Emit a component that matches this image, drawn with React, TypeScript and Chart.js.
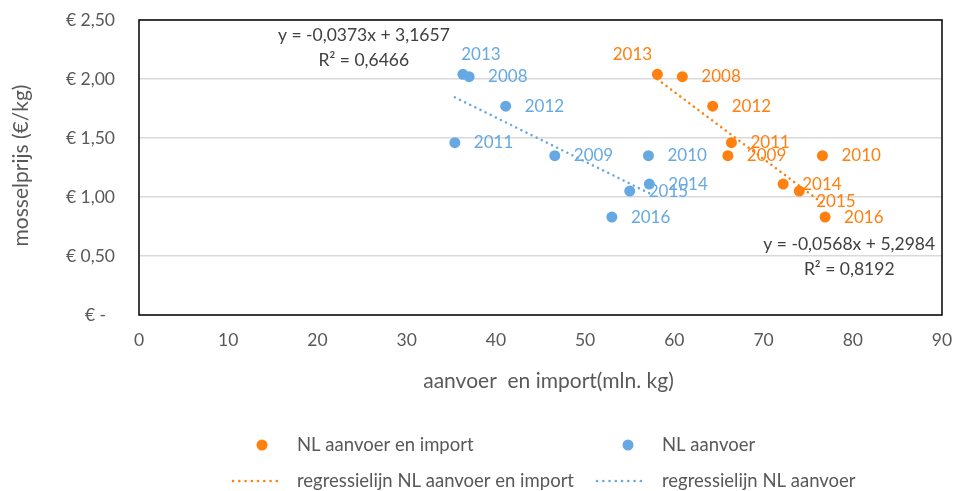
import React, { useEffect, useRef } from 'react';
import { Chart, registerables } from 'chart.js';

Chart.register(...registerables);

// ---------- data ----------
const years = ['2008', '2009', '2010', '2011', '2012', '2013', '2014', '2015', '2016'];
const importVolume = [60.9, 66.0, 76.6, 66.4, 64.3, 58.1, 72.2, 74.0, 76.9]; // NL aanvoer en import
const landingVolume = [37.0, 46.6, 57.1, 35.4, 41.1, 36.3, 57.2, 55.0, 53.0]; // NL aanvoer
const prices = [2.02, 1.35, 1.35, 1.46, 1.77, 2.04, 1.11, 1.05, 0.83];

const seriesNames = ['NL aanvoer en import', 'NL aanvoer'];
const trendNames = ['regressielijn NL aanvoer en import', 'regressielijn NL aanvoer'];
const trendSlopes = [-0.0568, -0.0373];
const trendIntercepts = [5.2984, 3.1657];
const trendEquations = ['y = -0,0568x + 5,2984', 'y = -0,0373x + 3,1657'];
const trendR2 = ['R² = 0,8192', 'R² = 0,6466'];

const xTicks = [0, 10, 20, 30, 40, 50, 60, 70, 80, 90];
const yTicks = [0, 0.5, 1, 1.5, 2, 2.5];
const xTitle = 'aanvoer  en import(mln. kg)';
const yTitle = 'mosselprijs (€/kg)';

// ---------- styles / positions ----------
const ORANGE = '#FF7F0F';
const BLUE = '#66A9E2';
const TEXT = '#595959';
const EQ_TEXT = '#404040';
const FONT = 'Lato';

// label placement per year index: [dx, dy, align]
type LP = [number, number, CanvasTextAlign];
const defaultLP: LP = [19, 0, 'left'];
const labelPlacementOrange: Record<number, LP> = { 5: [-25, -20, 'center'], 7: [17, 10, 'left'] };
const labelPlacementBlue: Record<number, LP> = { 5: [18, -20, 'center'] };
// equation anchors in data coordinates (centre of first line)
const eqAnchors = [
  { x: 79.6, y: 0.6 },
  { x: 25.2, y: 2.373 },
];

function lineEnds(xs: number[], i: number) {
  const mn = Math.min(...xs);
  const mx = Math.max(...xs);
  return [
    { x: mn, y: trendSlopes[i] * mn + trendIntercepts[i] },
    { x: mx, y: trendSlopes[i] * mx + trendIntercepts[i] },
  ];
}

const overlayPlugin = {
  id: 'overlay',
  beforeDatasetsDraw(chart: any) {
    const { ctx, chartArea } = chart;
    ctx.save();
    ctx.strokeStyle = '#000';
    ctx.lineWidth = 1.5;
    ctx.strokeRect(chartArea.left, chartArea.top, chartArea.right - chartArea.left, chartArea.bottom - chartArea.top);
    ctx.restore();
  },
  afterDraw(chart: any) {
    const { ctx, chartArea } = chart;
    const xs = chart.scales.x;
    const ys = chart.scales.y;
    ctx.save();
    ctx.textBaseline = 'middle';
    // axis titles
    ctx.fillStyle = TEXT;
    ctx.font = `21px ${FONT}`;
    ctx.textAlign = 'center';
    ctx.fillText(xTitle, (chartArea.left + chartArea.right) / 2 + 8, chartArea.bottom + 66);
    ctx.save();
    ctx.translate(21, (chartArea.top + chartArea.bottom) / 2 - 2);
    ctx.rotate(-Math.PI / 2);
    ctx.fillText(yTitle, 0, 0);
    ctx.restore();
    // year labels
    ctx.font = `17px ${FONT}`;
    [0, 1].forEach((di) => {
      const meta = chart.getDatasetMeta(di);
      const color = di === 0 ? ORANGE : BLUE;
      const placements = di === 0 ? labelPlacementOrange : labelPlacementBlue;
      ctx.fillStyle = color;
      meta.data.forEach((pt: any, i: number) => {
        const [dx, dy, align] = placements[i] || defaultLP;
        ctx.textAlign = align;
        ctx.fillText(years[i], pt.x + dx, pt.y + dy);
      });
    });
    // equations
    ctx.font = `17.5px ${FONT}`;
    ctx.fillStyle = EQ_TEXT;
    ctx.textAlign = 'center';
    eqAnchors.forEach((a, i) => {
      const px = xs.getPixelForValue(a.x);
      const py = ys.getPixelForValue(a.y);
      ctx.fillText(trendEquations[i], px, py);
      ctx.fillText(trendR2[i], px, py + 25);
    });
    // legend
    ctx.font = `18.5px ${FONT}`;
    const rows = [445, 481];
    const cols = [{ sym: 262, line: 233, text: 297 }, { sym: 628, line: 597, text: 662 }];
    ctx.textAlign = 'left';
    [0, 1].forEach((i) => {
      const color = i === 0 ? ORANGE : BLUE;
      const c = cols[i];
      ctx.fillStyle = color;
      ctx.beginPath();
      ctx.arc(c.sym, rows[0], 5.5, 0, Math.PI * 2);
      ctx.fill();
      ctx.fillStyle = TEXT;
      ctx.fillText(seriesNames[i], c.text, rows[0]);
      ctx.strokeStyle = color;
      ctx.lineWidth = 2.5;
      ctx.lineCap = 'round';
      ctx.setLineDash([0.1, 6.15]);
      ctx.beginPath();
      ctx.moveTo(c.line, rows[1]);
      ctx.lineTo(c.line + 50, rows[1]);
      ctx.stroke();
      ctx.setLineDash([]);
      ctx.fillStyle = TEXT;
      ctx.fillText(trendNames[i], c.text, rows[1]);
    });
    ctx.restore();
  },
};

export default function App() {
  const ref = useRef<HTMLCanvasElement>(null);
  useEffect(() => {
    if (!ref.current) return;
    const chart = new Chart(ref.current, {
      type: 'scatter',
      data: {
        datasets: [
          {
            label: seriesNames[0],
            data: importVolume.map((x, i) => ({ x, y: prices[i] })),
            backgroundColor: ORANGE,
            borderWidth: 0,
            pointRadius: 5.5,
          },
          {
            label: seriesNames[1],
            data: landingVolume.map((x, i) => ({ x, y: prices[i] })),
            backgroundColor: BLUE,
            borderWidth: 0,
            pointRadius: 5.5,
          },
          {
            type: 'line',
            label: trendNames[0],
            data: lineEnds(importVolume, 0),
            borderColor: ORANGE,
            borderWidth: 2.5,
            borderDash: [0.1, 5.6],
            borderCapStyle: 'round',
            pointRadius: 0,
            showLine: true,
            fill: false,
          },
          {
            type: 'line',
            label: trendNames[1],
            data: lineEnds(landingVolume, 1),
            borderColor: BLUE,
            borderWidth: 2.5,
            borderDash: [0.1, 5.6],
            borderCapStyle: 'round',
            pointRadius: 0,
            showLine: true,
            fill: false,
          },
        ] as any,
      },
      options: {
        animation: false,
        responsive: false,
        devicePixelRatio: 1,
        layout: { padding: { left: 0, top: 20, right: 17, bottom: 95 } },
        plugins: { legend: { display: false }, tooltip: { enabled: false } },
        scales: {
          x: {
            type: 'linear',
            min: 0,
            max: 90,
            afterFit: (s: any) => {
              s.height = 81;
              s.paddingLeft = 0;
              s.paddingRight = 0;
            },
            afterBuildTicks: (s: any) => { s.ticks = xTicks.map((v) => ({ value: v })); },
            grid: { display: false, drawTicks: false },
            border: { display: false },
            ticks: { color: TEXT, font: { family: FONT, size: 17.5 }, padding: 15 },
          },
          y: {
            type: 'linear',
            min: 0,
            max: 2.5,
            afterFit: (s: any) => {
              s.width = 139;
              s.paddingTop = 0;
              s.paddingBottom = 0;
            },
            afterBuildTicks: (s: any) => { s.ticks = yTicks.map((v) => ({ value: v })); },
            grid: { color: '#D9D9D9', lineWidth: 1.5, drawTicks: false },
            border: { display: false },
            ticks: {
              color: TEXT,
              font: { family: FONT, size: 17.5 },
              padding: 24,
              callback: (v: any) => (Number(v) === 0 ? '€ -  ' : '€ ' + Number(v).toFixed(2).replace('.', ',')),
            },
          },
        },
      },
      plugins: [overlayPlugin],
    });
    return () => chart.destroy();
  }, []);
  return (
    <div style={{ position: 'fixed', left: 0, top: 0, width: 959, height: 491, background: '#fff' }}>
      <canvas ref={ref} width={959} height={491} style={{ display: 'block' }} />
    </div>
  );
}
